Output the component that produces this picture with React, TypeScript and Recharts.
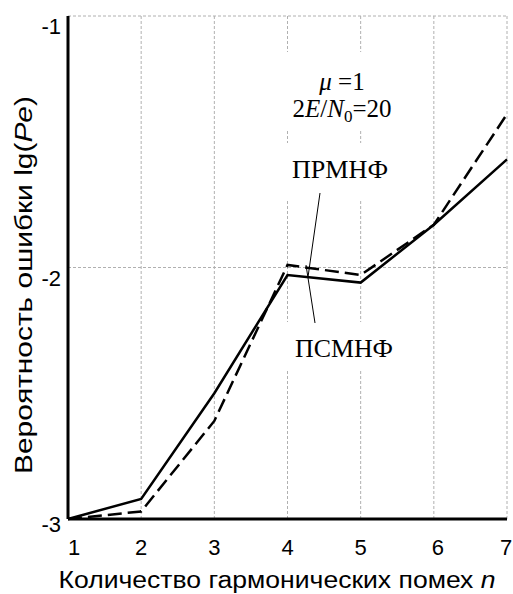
import { CartesianGrid, Customized, Line, LineChart, XAxis, YAxis } from 'recharts';

// количество гармонических помех n
const harmonics = [1, 2, 3, 4, 5, 6, 7];
// lg(Pe), сплошная кривая
const solidCurve = [-3, -2.92, -2.5, -2.03, -2.06, -1.83, -1.57];
// lg(Pe), штриховая кривая
const dashedCurve = [-3, -2.97, -2.61, -1.99, -2.03, -1.83, -1.39];
const xTicks = [1, 2, 3, 4, 5, 6, 7];
const yTicks = [-3, -2, -1];

const data = harmonics.map((n, i) => ({ n, solid: solidCurve[i], dashed: dashedCurve[i] }));

const SANS = 'Liberation Sans, Arial, sans-serif';
const SERIF = 'Liberation Serif, Times New Roman, serif';
const frame = { stroke: '#000', strokeWidth: 3 };

const xShift: Record<number, number> = { 1: 6, 6: 4, 7: -1 };

const XTick = ({ x, y, payload }: any) => (
  <text x={x + (xShift[payload.value] ?? 0)} y={y + 36} textAnchor='middle' fontFamily={SANS} fontSize={22} fill='#000'>
    {payload.value}
  </text>
);

const YTick = ({ x, y, payload }: any) => (
  <text x={x - 7} y={y + (payload.value === -3 ? 13 : 18)} textAnchor='end' fontFamily={SANS} fontSize={22} fill='#000'>
    {payload.value}
  </text>
);

const Notes = () => (
  <g>
    <rect x={283} y={52} width={117} height={79} fill='#fff' />
    <rect x={283} y={143} width={117} height={57} fill='#fff' />
    <rect x={283} y={322} width={117} height={48} fill='#fff' />
    <text x={342} y={90} textAnchor='middle' fontFamily={SERIF} fontSize={25} fill='#000'>
      <tspan fontStyle='italic'>μ</tspan> =1
    </text>
    <text x={342} y={117} textAnchor='middle' fontFamily={SERIF} fontSize={25} fill='#000'>
      2<tspan fontStyle='italic'>E</tspan>/<tspan fontStyle='italic'>N</tspan>
      <tspan fontSize={17} dy={5}>0</tspan>
      <tspan dy={-5}>=20</tspan>
    </text>
    <text x={340} y={178} textAnchor='middle' fontFamily={SERIF} fontSize={25} fill='#000' textLength={96} lengthAdjust='spacingAndGlyphs'>
      ПРМНФ
    </text>
    <text x={344} y={357} textAnchor='middle' fontFamily={SERIF} fontSize={25} fill='#000' textLength={98} lengthAdjust='spacingAndGlyphs'>
      ПСМНФ
    </text>
    <line x1={320} y1={193} x2={308} y2={277} stroke='#000' strokeWidth={1} />
    <line x1={306} y1={265} x2={315} y2={323} stroke='#000' strokeWidth={1} />
  </g>
);

export default function App() {
  return (
    <div style={{ position: 'absolute', left: 0, top: 0, width: 513, height: 594, background: '#fff' }}>
      <LineChart width={513} height={594} data={data} margin={{ top: 16, right: 6, left: 0, bottom: 0 }}>
        <CartesianGrid stroke='#b0b0b0' strokeDasharray='3 2' strokeWidth={1} />
        <XAxis
          dataKey='n'
          type='number'
          domain={[1, 7]}
          ticks={xTicks}
          height={75}
          tickSize={0}
          tickMargin={0}
          axisLine={frame}
          tick={<XTick />}
          interval={0}
        />
        <XAxis
          xAxisId='top'
          orientation='top'
          dataKey='n'
          type='number'
          domain={[1, 7]}
          ticks={xTicks}
          height={0}
          tickSize={3}
          tickLine={{ stroke: '#000', strokeWidth: 1 }}
          axisLine={frame}
          tick={false}
        />
        <YAxis
          type='number'
          domain={[-3, -1]}
          ticks={yTicks}
          width={68}
          tickSize={0}
          tickMargin={0}
          axisLine={frame}
          tick={<YTick />}
          interval={0}
        />
        <YAxis
          yAxisId='right'
          orientation='right'
          type='number'
          domain={[-3, -1]}
          ticks={yTicks}
          width={0}
          tickSize={0}
          axisLine={frame}
          tick={false}
        />
        <Customized component={Notes} />
        <Line dataKey='dashed' stroke='#000' strokeWidth={2.5} strokeDasharray='14 6' dot={false} isAnimationActive={false} />
        <Line dataKey='solid' stroke='#000' strokeWidth={2.5} dot={false} isAnimationActive={false} />
      </LineChart>
      <svg width={513} height={594} style={{ position: 'absolute', left: 0, top: 0, pointerEvents: 'none' }}>
        <text x={277} y={588} textAnchor='middle' fontFamily={SANS} fontSize={23} fill='#000' textLength={437} lengthAdjust='spacingAndGlyphs'>
          Количество гармонических помех <tspan fontStyle='italic'>n</tspan>
        </text>
        <text
          transform='translate(32, 285) rotate(-90)'
          textAnchor='middle'
          fontFamily={SANS}
          fontSize={23}
          fill='#000'
          textLength={378}
          lengthAdjust='spacingAndGlyphs'
        >
          Вероятность ошибки lg(<tspan fontStyle='italic'>Pe</tspan>)
        </text>
      </svg>
    </div>
  );
}
